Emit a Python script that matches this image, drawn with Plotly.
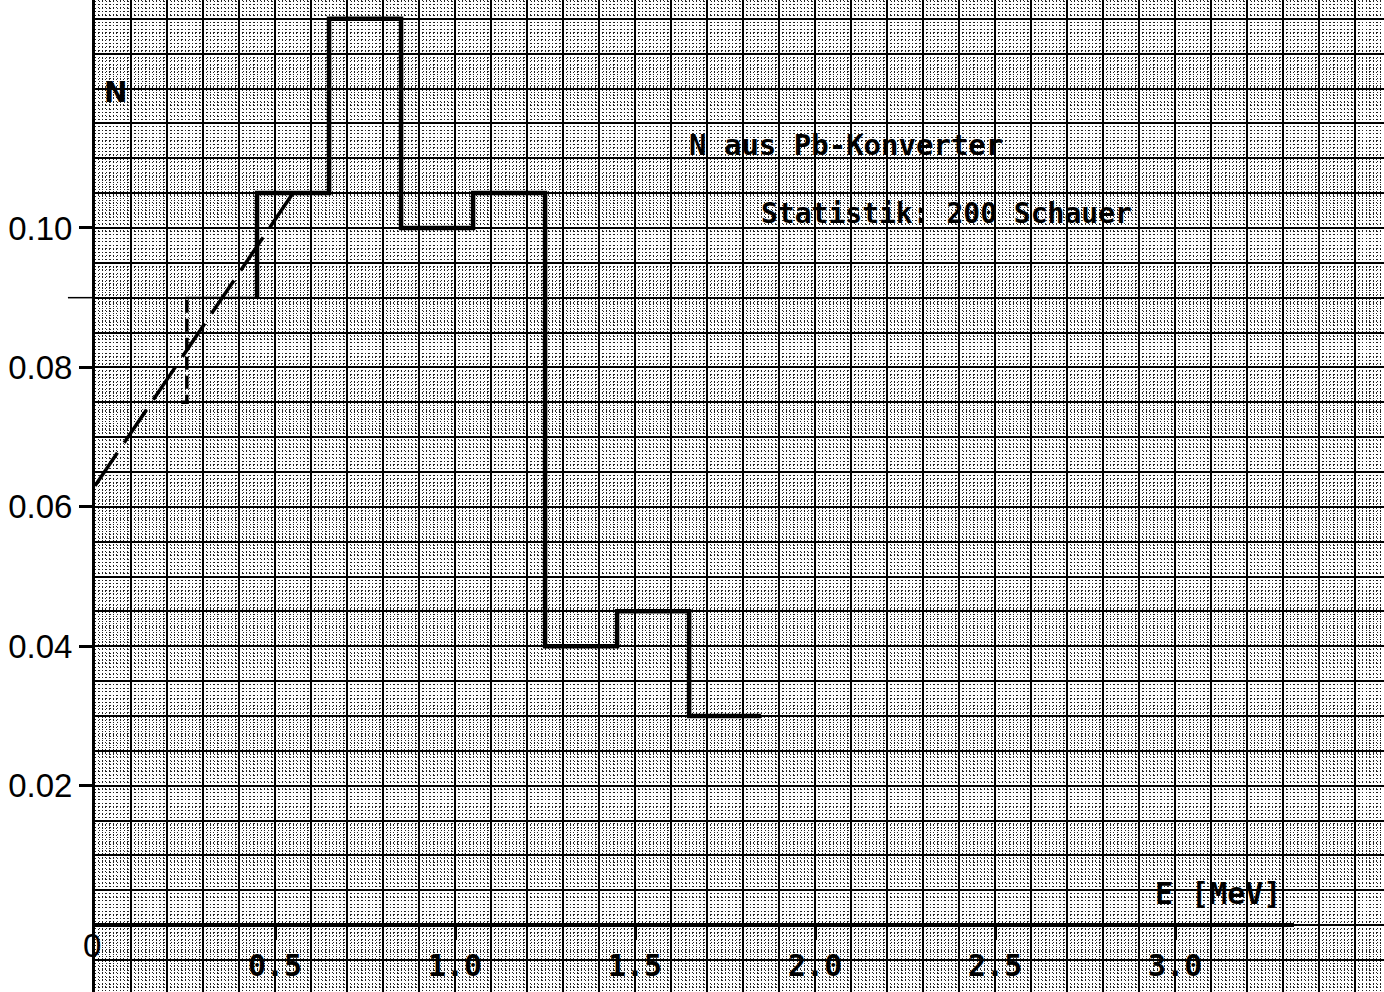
import plotly.graph_objects as go

# Energy spectrum histogram (bin edges in MeV, normalised counts N)
bin_edges = [0.25, 0.45, 0.65, 0.85, 1.05, 1.25, 1.45, 1.65, 1.85]
bin_values = [0.09, 0.105, 0.13, 0.10, 0.105, 0.04, 0.045, 0.03]

# Extrapolated low-energy part (dashed)
extrap_x = [0.0, 0.55]
extrap_y = [0.063, 0.105]
dashed_edge_x = [0.24, 0.255, 0.255]
dashed_edge_y = [0.075, 0.075, 0.09]

# Axis ticks
x_tick_vals = [0.5, 1.0, 1.5, 2.0, 2.5, 3.0]
x_tick_text = ["0.5", "1.0", "1.5", "2.0", "2.5", "3.0"]
y_tick_vals = [0.02, 0.04, 0.06, 0.08, 0.10]
y_tick_text = ["0.02", "0.04", "0.06", "0.08", "0.10"]

X_RANGE = [0.0, 3.58]
Y_RANGE = [-0.0096, 0.1327]

fig = go.Figure()

# solid histogram outline from the second edge onwards
fig.add_trace(go.Scatter(
    x=bin_edges[1:], y=bin_values, mode="lines", line_shape="vh",
    line=dict(color="black", width=4.5), hoverinfo="skip", showlegend=False))

# first bin top drawn thin
fig.add_trace(go.Scatter(
    x=bin_edges[:2], y=[bin_values[0]] * 2, mode="lines",
    line=dict(color="black", width=2), hoverinfo="skip", showlegend=False))

# dashed extrapolation line
fig.add_trace(go.Scatter(
    x=extrap_x, y=extrap_y, mode="lines",
    line=dict(color="black", width=3.5, dash="40px,12px"),
    hoverinfo="skip", showlegend=False))

fig.add_trace(go.Scatter(
    x=dashed_edge_x, y=dashed_edge_y, mode="lines",
    line=dict(color="black", width=3.5, dash="13px,6px"),
    hoverinfo="skip", showlegend=False))

# carrier trace for the labelled axes
fig.add_trace(go.Scatter(
    x=[X_RANGE[0]], y=[Y_RANGE[0]], mode="markers", marker=dict(opacity=0),
    xaxis="x2", yaxis="y2", hoverinfo="skip", showlegend=False))

minor_grid = dict(showgrid=True, gridcolor="#222222", griddash="1.2px,2.4px",
                  gridwidth=1)

fig.update_layout(
    width=1384, height=992,
    margin=dict(l=95, r=0, t=0, b=0, pad=0),
    paper_bgcolor="white", plot_bgcolor="white",
    xaxis=dict(range=X_RANGE, tick0=0, dtick=0.1, showgrid=True,
               gridcolor="black", gridwidth=2, showticklabels=False,
               ticks="", zeroline=False,
               minor=dict(dtick=0.01, **minor_grid)),
    yaxis=dict(range=Y_RANGE, tick0=0, dtick=0.005, showgrid=True,
               gridcolor="black", gridwidth=2, showticklabels=False,
               ticks="", zeroline=False, showline=True, linecolor="black",
               linewidth=3,
               minor=dict(dtick=0.0005, **minor_grid)),
    xaxis2=dict(overlaying="x", anchor="free", position=67 / 992,
                side="bottom", range=X_RANGE, tickvals=x_tick_vals,
                ticktext=x_tick_text, ticks="outside", ticklen=14,
                tickwidth=2.5, tickcolor="black", showgrid=False,
                showline=False, zeroline=False, ticklabelstandoff=0,
                tickfont=dict(family="DejaVu Sans Mono", size=30,
                              color="black", weight="bold")),
    yaxis2=dict(overlaying="y", anchor="x", side="left", range=Y_RANGE,
                tickvals=y_tick_vals, ticktext=y_tick_text, ticks="outside",
                ticklen=15, tickwidth=2.5, tickcolor="black", showgrid=False,
                zeroline=False, showline=False,
                tickfont=dict(family="Liberation Sans", size=33,
                              color="black")),
    shapes=[
        # energy axis line
        dict(type="line", xref="x", yref="y", x0=0, x1=3.33, y0=0, y1=0,
             line=dict(color="black", width=4), layer="above"),
        # extension of the 0.09 level past the axis
        dict(type="line", xref="paper", yref="y", x0=-0.021, x1=0,
             y0=0.09, y1=0.09, line=dict(color="black", width=1.5)),
    ],
    annotations=[
        dict(text="N", x=0.058, y=0.1194, xref="x", yref="y",
             showarrow=False, font=dict(family="DejaVu Sans", size=28,
                                        color="black", weight="bold")),
        dict(text="N aus Pb-Konverter", x=2.086, y=0.1119, xref="x",
             yref="y", showarrow=False,
             font=dict(family="DejaVu Sans Mono", size=29, color="black",
                       weight="bold")),
        dict(text="Statistik: 200 Schauer", x=2.364, y=0.1021, xref="x",
             yref="y", showarrow=False,
             font=dict(family="DejaVu Sans Mono", size=28, color="black",
                       weight="bold")),
        dict(text="E [MeV]", x=3.118, y=0.0046, xref="x", yref="y",
             showarrow=False,
             font=dict(family="DejaVu Sans Mono", size=30, color="black",
                       weight="bold")),
        dict(text="0", x=-0.011, y=-0.0029, xref="paper", yref="y",
             showarrow=False,
             font=dict(family="Liberation Sans", size=33, color="black")),
    ],
)

fig.write_html("out.html")
